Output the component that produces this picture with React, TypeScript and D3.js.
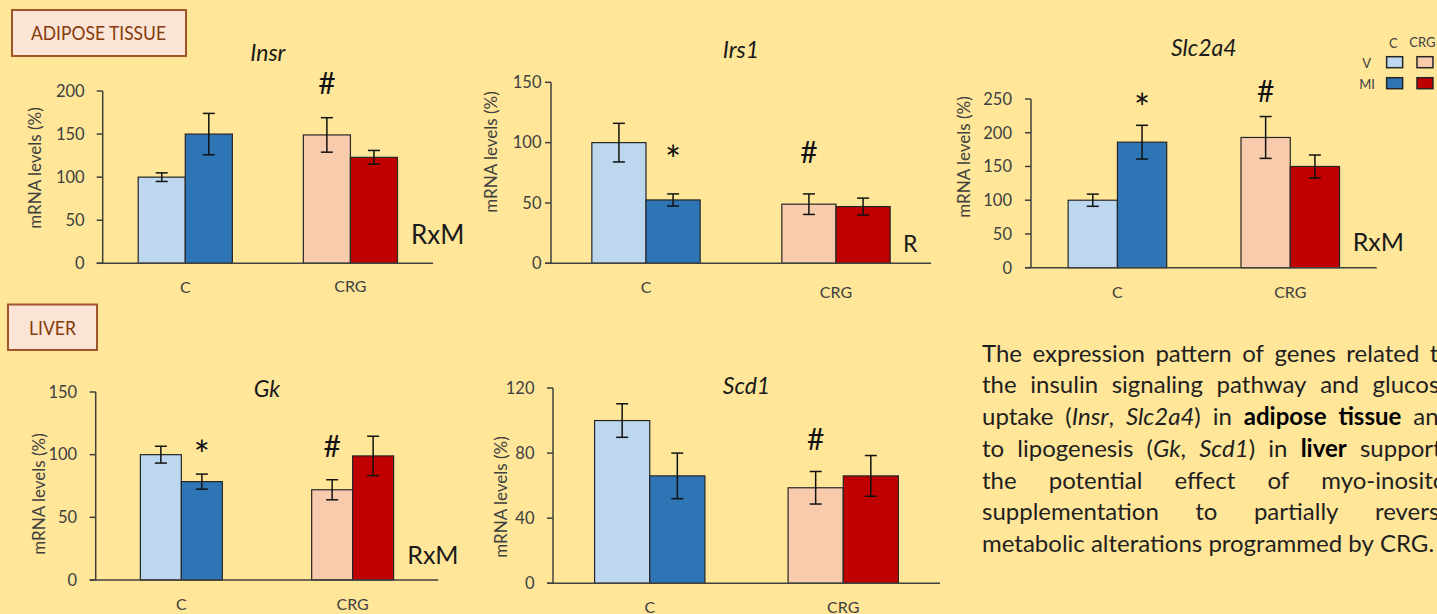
import * as d3 from 'd3';

// groups on the x axis, treatments inside each group
const groups = ['C', 'CRG'];
const treatments = ['V', 'MI'];

// values are ordered C-V, C-MI, CRG-V, CRG-MI
const insrMean = [100, 150, 149, 123];
const insrErr = [5, 24, 20, 8];
const insrTicks = [0, 50, 100, 150, 200];
const insrMarks = ['', '', '#', ''];

const irs1Mean = [100, 52.5, 49, 47];
const irs1Err = [16, 5, 8.5, 7];
const irs1Ticks = [0, 50, 100, 150];
const irs1Marks = ['', '*', '#', ''];

const slc2a4Mean = [100, 186, 193, 150];
const slc2a4Err = [9, 25, 31, 17];
const slc2a4Ticks = [0, 50, 100, 150, 200, 250];
const slc2a4Marks = ['', '*', '#', ''];

const gkMean = [100, 78.5, 72, 99];
const gkErr = [6.7, 6, 8, 15.7];
const gkTicks = [0, 50, 100, 150];
const gkMarks = ['', '*', '#', ''];

const scd1Mean = [100, 66, 58.7, 66];
const scd1Err = [10.3, 14, 10, 12.5];
const scd1Ticks = [0, 40, 80, 120];
const scd1Marks = ['', '', '#', ''];

const FONT = 'Lato, "Open Sans", sans-serif';
const BG = '#FFE699';
const AXIS = '#404040';
const fills: Record<string, string> = {
  'C-V': '#BDD7EE',
  'C-MI': '#2E75B6',
  'CRG-V': '#F8CBAD',
  'CRG-MI': '#C00000',
};

type Layout = {
  x0: number; x1: number; y0: number; yTop: number; pad: number;
  tickPad: number; ty: number; cy: number[]; lx: number; ly: number;
  gaps: number[]; sdx: number; sdy: number; sfs: number;
};

function Panel(props: {
  title: string; mean: number[]; err: number[]; ticks: number[];
  marks: string[]; stat: string; L: Layout;
}) {
  const { title, mean, err, ticks, marks, stat, L } = props;
  const y = d3.scaleLinear().domain([0, ticks[ticks.length - 1]]).range([L.y0, L.yTop]);
  const xg = d3.scaleBand().domain(groups).range([L.x0, L.x1]);
  const xt = d3.scaleBand().domain(treatments).range([0, xg.bandwidth()])
    .paddingInner(0).paddingOuter(L.pad);
  const bw = xt.bandwidth();

  const bars = mean.map((v, i) => {
    const g = groups[Math.floor(i / 2)];
    const t = treatments[i % 2];
    const x = (xg(g) || 0) + (xt(t) || 0);
    return { g, t, v, e: err[i], x, cx: x + bw / 2, mark: marks[i], gap: L.gaps[i] };
  });

  return (
    <g>
      {/* bars */}
      {bars.map((b, i) => (
        <rect key={'b' + i} x={b.x} y={y(b.v)} width={bw} height={L.y0 - y(b.v)}
          fill={fills[b.g + '-' + b.t]} stroke="#262626" strokeWidth={1.2} />
      ))}
      {/* error bars */}
      {bars.map((b, i) => (
        <g key={'e' + i} stroke="#111" strokeWidth={1.5}>
          <line x1={b.cx} x2={b.cx} y1={y(b.v - b.e)} y2={y(b.v + b.e)} />
          <line x1={b.cx - 6} x2={b.cx + 6} y1={y(b.v + b.e)} y2={y(b.v + b.e)} />
          <line x1={b.cx - 6} x2={b.cx + 6} y1={y(b.v - b.e)} y2={y(b.v - b.e)} />
        </g>
      ))}
      {/* axes */}
      <line x1={L.x0} x2={L.x0} y1={L.yTop} y2={L.y0} stroke={AXIS} strokeWidth={1.5} />
      <line x1={L.x0 - 6} x2={L.x1} y1={L.y0} y2={L.y0} stroke={AXIS} strokeWidth={1.5} />
      {ticks.map((t) => (
        <g key={'t' + t}>
          <line x1={L.x0 - 6} x2={L.x0} y1={y(t)} y2={y(t)} stroke={AXIS} strokeWidth={1.5} />
          <text x={L.x0 - 6 - L.tickPad} y={y(t) + 5.8} textAnchor="end"
            fontSize={16.5} fill={AXIS}>{t}</text>
        </g>
      ))}
      {groups.map((g, i) => (
        <text key={'c' + g} x={(xg(g) || 0) + xg.bandwidth() / 2} y={L.cy[i]}
          textAnchor="middle" fontSize={16} fill={AXIS}>{g}</text>
      ))}
      <text transform={`translate(${L.lx},${L.ly}) rotate(-90)`} textAnchor="middle"
        fontSize={17} fill={AXIS}>mRNA levels (%)</text>
      <text x={(L.x0 + L.x1) / 2} y={L.ty} textAnchor="middle" fontSize={23}
        fontStyle="italic" fill="#1a1a1a">{title}</text>
      {/* significance marks */}
      {bars.filter((b) => b.mark).map((b, i) => (
        <text key={'m' + i} x={b.cx} y={y(b.v + b.e) - b.gap + (b.mark === '*' ? 27 : 21.5)}
          textAnchor="middle" fontSize={b.mark === '*' ? 38 : 30} fill="#111">{b.mark}</text>
      ))}
      {stat && (
        <text x={L.x1 + L.sdx} y={L.y0 + L.sdy} fontSize={L.sfs} fill="#1a1a1a">{stat}</text>
      )}
    </g>
  );
}

const layoutInsr: Layout = {
  x0: 102.7, x1: 433, y0: 263.3, yTop: 91, pad: 0.754, tickPad: 12, ty: 61,
  cy: [293, 291.5], lx: 40.5, ly: 168, gaps: [0, 0, 45, 0], sdx: -22, sdy: -19, sfs: 26,
};
const layoutIrs1: Layout = {
  x0: 551, x1: 931, y0: 263.3, yTop: 82.3, pad: 0.754, tickPad: 3.5, ty: 58.3,
  cy: [293, 298], lx: 496.5, ly: 152, gaps: [0, 47, 52, 0], sdx: -28, sdy: -11.5, sfs: 23,
};
const layoutSlc: Layout = {
  x0: 1031, x1: 1376.7, y0: 267.7, yTop: 99, pad: 0.754, tickPad: 13, ty: 56,
  cy: [298, 298], lx: 970, ly: 157, gaps: [0, 30, 36, 0], sdx: -24, sdy: -16.5, sfs: 25,
};
const layoutGk: Layout = {
  x0: 95.7, x1: 438.3, y0: 580, yTop: 392, pad: 1.09, tickPad: 12.5, ty: 397.3,
  cy: [610, 610], lx: 45, ly: 494, gaps: [0, 32, 44, 0], sdx: -31, sdy: -16.5, sfs: 25,
};
const layoutScd1: Layout = {
  x0: 553, x1: 940, y0: 583.3, yTop: 388, pad: 0.754, tickPad: 12.5, ty: 394.3,
  cy: [613, 613], lx: 506.5, ly: 497, gaps: [0, 0, 43, 0], sdx: 0, sdy: 0, sfs: 25,
};

// paragraph, each word made of runs: [text, style] (i = italic, b = bold)
type Run = [string, string];
const paragraph: Run[][][] = [
  'The expression pattern of genes related to',
  'the insulin signaling pathway and glucose',
  [[['uptake', '']], [['(', ''], ['Insr', 'i'], [',', '']], [['Slc2a4', 'i'], [')', '']], [['in', '']], [['adipose', 'b']], [['tissue', 'b']], [['and', '']]],
  [[['to', '']], [['lipogenesis', '']], [['(', ''], ['Gk', 'i'], [',', '']], [['Scd1', 'i'], [')', '']], [['in', '']], [['liver', 'b']], [['supports', '']]],
  'the potential effect of myo-inositol',
  'supplementation to partially reverse',
  'metabolic alterations programmed by CRG.',
].map((l: any) => (typeof l === 'string' ? l.split(' ').map((w: string) => [[w, ''] as Run]) : l));

const PFS = 24;
let ctx: CanvasRenderingContext2D | null = null;
function measure(text: string, style: string) {
  if (!ctx) ctx = document.createElement('canvas').getContext('2d');
  if (!ctx) return text.length * PFS * 0.5;
  ctx.font = `${style === 'i' ? 'italic ' : ''}${style === 'b' ? '700 ' : '400 '}${PFS}px Lato`;
  return ctx.measureText(text).width;
}

function Paragraph() {
  const x0 = 982;
  const W = 470;
  const base = 361.7;
  const lh = 31.7;
  return (
    <g fontSize={PFS} fill="#1f1f1f">
      {paragraph.map((words, li) => {
        const widths = words.map((w) => d3.sum(w, (r) => measure(r[0], r[1])));
        const last = li === paragraph.length - 1;
        const space = last ? measure(' ', '')
          : (W - d3.sum(widths)) / (words.length - 1);
        let x = x0;
        return words.map((w, wi) => {
          const el = (
            <text key={li + '-' + wi} x={x} y={base + li * lh}>
              {w.map((r, ri) => (
                <tspan key={ri} fontStyle={r[1] === 'i' ? 'italic' : 'normal'}
                  fontWeight={r[1] === 'b' ? 700 : 400}
                  fill={r[1] === 'b' ? '#000' : undefined}>{r[0]}</tspan>
              ))}
            </text>
          );
          x += widths[wi] + space;
          return el;
        });
      })}
    </g>
  );
}

function Legend() {
  const sx = d3.scaleBand().domain(groups).range([1383, 1438.2]).paddingInner(0.42).paddingOuter(0.12);
  return (
    <g fontSize={13} fill={AXIS}>
      <text x={1393.3} y={48.3} textAnchor="middle">C</text>
      <text x={1409.3} y={47.3}>CRG</text>
      <text x={1366.7} y={68.3} textAnchor="middle">V</text>
      <text x={1367} y={89.3} textAnchor="middle">MI</text>
      {treatments.map((t, ti) => groups.map((g) => (
        <rect key={g + t} x={(sx(g) || 0)} y={ti === 0 ? 56.7 : 77.7} width={16} height={11}
          fill={fills[g + '-' + t]} stroke="#262626" strokeWidth={1.5} />
      )))}
    </g>
  );
}

export default function App() {
  return (
    <svg width={1437} height={614} fontFamily={FONT}
      style={{ position: 'absolute', left: 0, top: 0, display: 'block' }}>
      <rect width={1437} height={614} fill={BG} />

      <rect x={12} y={10} width={174} height={46} fill="#FCE4D6" stroke="#A0552A" strokeWidth={2} />
      <text x={31} y={40} fontSize={20} fill="#843C0C" textLength={135}
        lengthAdjust="spacingAndGlyphs">ADIPOSE TISSUE</text>
      <rect x={8} y={304.5} width={89} height={45.5} fill="#FCE4D6" stroke="#A0552A" strokeWidth={2} />
      <text x={29} y={335} fontSize={20} fill="#843C0C" textLength={47}
        lengthAdjust="spacingAndGlyphs">LIVER</text>

      <Panel title="Insr" mean={insrMean} err={insrErr} ticks={insrTicks} marks={insrMarks} stat="RxM" L={layoutInsr} />
      <Panel title="Irs1" mean={irs1Mean} err={irs1Err} ticks={irs1Ticks} marks={irs1Marks} stat="R" L={layoutIrs1} />
      <Panel title="Slc2a4" mean={slc2a4Mean} err={slc2a4Err} ticks={slc2a4Ticks} marks={slc2a4Marks} stat="RxM" L={layoutSlc} />
      <Panel title="Gk" mean={gkMean} err={gkErr} ticks={gkTicks} marks={gkMarks} stat="RxM" L={layoutGk} />
      <Panel title="Scd1" mean={scd1Mean} err={scd1Err} ticks={scd1Ticks} marks={scd1Marks} stat="" L={layoutScd1} />

      <Legend />
      <Paragraph />
    </svg>
  );
}
